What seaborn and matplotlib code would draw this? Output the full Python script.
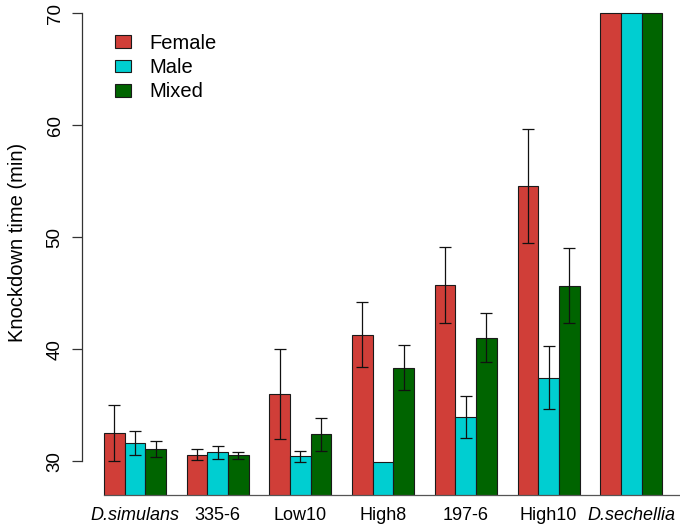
import pandas as pd
import numpy as np
import matplotlib
matplotlib.use("Agg")
import matplotlib.pyplot as plt
import seaborn as sns

# Dados
linhas = ["D.simulans", "335-6", "Low10", "High8", "197-6", "High10", "D.sechellia"]
sexos = ["Female", "Male", "Mixed"]

female = [32.5, 30.6, 36.0, 41.3, 45.7, 54.55, 70.0]
male = [31.6, 30.8, 30.45, 29.9, 33.95, 37.45, 70.0]
mixed = [31.1, 30.55, 32.4, 38.35, 41.05, 45.65, 70.0]

female_err = [2.5, 0.47, 4.0, 2.9, 3.4, 5.1, 0.0]
male_err = [1.07, 0.55, 0.5, 0.0, 1.9, 2.8, 0.0]
mixed_err = [0.75, 0.33, 1.45, 2.0, 2.15, 3.35, 0.0]

cores = ["#D03E38", "#00CED1", "#006400"]

# Montar o DataFrame em formato longo
df = pd.DataFrame(
    {
        "LINHA": linhas * 3,
        "SEXO": np.repeat(sexos, len(linhas)),
        "TEMPO": female + male + mixed,
        "ERRO": female_err + male_err + mixed_err,
    }
)

sns.set_style("ticks")
plt.rcParams["font.family"] = ["Liberation Sans", "DejaVu Sans"]
plt.rcParams["text.color"] = "black"
plt.rcParams["axes.labelcolor"] = "black"
plt.rcParams["xtick.labelcolor"] = "black"
plt.rcParams["ytick.labelcolor"] = "black"

fig = plt.figure(figsize=(6.8, 5.25), dpi=100)
ax = fig.add_axes([81.7 / 680, 30 / 525, 598.3 / 680, 495 / 525])

sns.barplot(
    data=df,
    x="LINHA",
    y="TEMPO",
    hue="SEXO",
    order=linhas,
    hue_order=sexos,
    palette=cores,
    width=0.75,
    gap=0,
    errorbar=None,
    edgecolor="#1a1a1a",
    linewidth=0.8,
    saturation=1,
    ax=ax,
)

# Barras de erro (desvio em torno da média)
offsets = [-0.25, 0.0, 0.25]
for i, sexo in enumerate(sexos):
    sub = df[(df["SEXO"] == sexo) & (df["ERRO"] > 0)]
    xs = [linhas.index(l) + offsets[i] for l in sub["LINHA"]]
    ax.errorbar(
        xs,
        sub["TEMPO"],
        yerr=sub["ERRO"],
        fmt="none",
        ecolor="#111111",
        elinewidth=0.9,
        capsize=4,
        capthick=0.9,
    )

ax.set_ylim(27, 71.16)
ax.set_xlim(-0.645, 6.59)

# Eixos ao estilo do R
ax.spines["top"].set_visible(False)
ax.spines["right"].set_visible(False)
ax.spines["left"].set_bounds(30, 70)
ax.spines["bottom"].set_bounds(-0.375, 6.59)
ax.spines["left"].set_color("#333333")
ax.spines["bottom"].set_color("#555555")
ax.spines["left"].set_linewidth(0.9)
ax.spines["bottom"].set_linewidth(0.9)

ax.set_yticks([30, 40, 50, 60, 70])
ax.tick_params(axis="y", length=7, width=0.9, color="#333333", pad=6, labelsize=13.5)
ax.tick_params(axis="x", length=0, pad=9, labelsize=13)
for lab in ax.get_yticklabels():
    lab.set_rotation(90)
    lab.set_va("center")

ax.set_xticks(range(len(linhas)))
ax.set_xticklabels(linhas)
for lab in ax.get_xticklabels():
    if lab.get_text().startswith("D."):
        lab.set_style("italic")

ax.set_xlabel("")
ax.set_ylabel("Knockdown time (min)", fontsize=14.5)
ax.yaxis.set_label_coords(-0.092, 0.51)

# Legenda sem moldura
handles, labels = ax.get_legend_handles_labels()
ax.legend(
    handles,
    labels,
    loc="upper left",
    bbox_to_anchor=(0.026, 0.968),
    frameon=False,
    fontsize=14.5,
    handlelength=0.8,
    handleheight=0.6,
    handletextpad=0.9,
    labelspacing=0.255,
)

fig.savefig("out.png", dpi=100)
